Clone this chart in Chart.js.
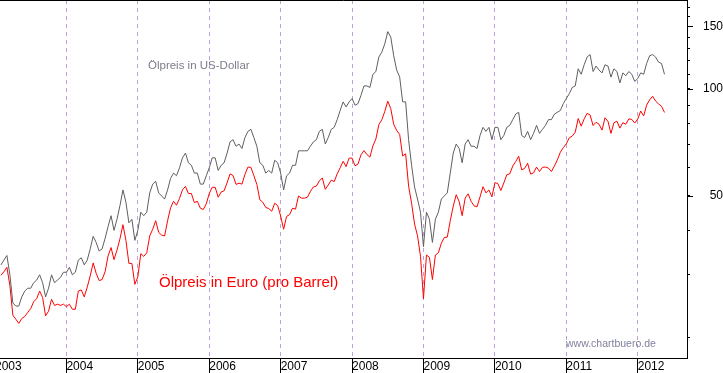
<!DOCTYPE html>
<html>
<head>
<meta charset="utf-8">
<script src="https://cdn.jsdelivr.net/npm/chart.js@4/dist/chart.umd.min.js"></script>
<style>
  html, body { margin: 0; padding: 0; background: #fff; }
  #wrap { width: 723px; height: 373px; }
</style>
</head>
<body>
<div id="wrap"><canvas id="oilChart" width="723" height="373"></canvas></div>
<script>
// half-monthly readings, starting at 1 Feb 2003
const firstDate = 2003 + 1 / 12;
const step = 1 / 24;

// Brent in US-Dollar
const usdPrice = [
  32, 33, 34, 30, 25, 24.5, 24.5, 26, 27, 27.5, 27.5, 28.5, 29, 30, 28.5, 26, 27.5, 30, 28.5, 29, 29.5, 30.5,
  30.5, 31.5, 30, 30.5, 33, 33.5, 32, 33, 35.5, 38.5, 37, 35, 35.5, 38, 41, 44, 40, 43, 47, 52, 48, 42, 43, 37.5,
  40, 45, 44, 45, 51, 54, 55, 51, 50, 49, 52, 56, 58, 57, 60, 64, 66, 62, 61, 58, 58, 54, 54, 57,
  60, 64, 64, 59, 61, 62, 66, 71, 72, 69, 70, 68, 73, 76, 77, 73, 69, 62, 61, 58, 59, 58, 63, 62,
  58, 52, 57, 58, 61, 61, 67, 67, 67, 67, 69, 71, 72, 76, 77, 70, 73, 77, 78, 82, 87, 92, 89, 92,
  94, 90, 91, 96, 102, 102, 101, 110, 112, 123, 127, 134, 145, 140, 124, 113, 108, 92, 92, 72, 61, 53, 49, 45,
  36, 45, 43, 37, 43, 45, 49, 50, 51, 58, 66, 70, 68, 62, 70, 72, 69, 69, 68, 74, 78, 76, 78, 72,
  78, 78, 72, 74, 78, 79, 82, 85, 86, 74, 73, 76, 72, 75, 79, 75, 77, 79, 82, 82, 85, 86, 87, 91,
  94, 97, 101, 102, 114, 110, 117, 123, 125, 112, 116, 113, 111, 117, 116, 108, 114, 112, 104, 111, 109, 112, 110, 105,
  107, 111, 110, 118, 124, 125, 123, 119, 118, 110
];

// Brent in Euro
const eurPrice = [
  29.9, 30.6, 31.5, 28.0, 23.1, 22.5, 21.9, 22.6, 22.9, 23.5, 24.1, 25.2, 25.7, 27.0, 25.9, 23.0, 23.7, 25.6, 24.6, 24.8, 24.6, 24.8,
  24.4, 24.8, 24.0, 24.0, 27.0, 27.2, 26.0, 27.7, 29.8, 32.4, 30.3, 28.9, 29.1, 30.6, 33.9, 35.8, 33.1, 35.2, 37.9, 41.5, 37.5, 32.3, 32.3, 28.2,
  29.6, 34.4, 33.8, 34.6, 38.6, 40.3, 42.6, 39.5, 38.8, 38.6, 42.6, 46.3, 48.3, 47.1, 49.2, 52.0, 53.2, 50.8, 50.8, 47.9, 48.3, 46.2, 45.8, 47.5,
  50.8, 52.9, 52.9, 49.6, 51.3, 51.7, 54.5, 57.7, 57.1, 53.9, 54.3, 54.0, 57.5, 60.3, 60.2, 57.0, 53.9, 48.8, 48.0, 46.4, 46.1, 45.3, 47.7, 47.0,
  43.9, 40.3, 43.8, 44.3, 46.2, 45.9, 50.0, 49.3, 49.3, 49.6, 51.5, 53.0, 53.3, 55.1, 56.2, 52.2, 53.7, 55.4, 54.9, 57.7, 60.0, 62.6, 60.5, 63.9,
  63.9, 60.8, 61.5, 65.3, 67.1, 65.4, 64.3, 69.2, 72.3, 79.4, 81.9, 86.5, 92.4, 88.1, 79.5, 76.4, 74.5, 64.8, 65.7, 53.3, 47.7, 41.7, 38.6, 33.8,
  25.7, 34.1, 33.6, 29.1, 34.1, 34.6, 36.8, 38.2, 38.3, 42.6, 46.8, 50.4, 48.2, 44.0, 49.3, 50.7, 48.3, 46.9, 46.6, 49.7, 53.1, 51.0, 52.0, 49.7,
  54.5, 54.2, 51.8, 54.4, 57.4, 57.7, 60.7, 62.5, 64.7, 59.2, 59.8, 61.8, 57.6, 58.1, 60.3, 58.6, 60.2, 60.3, 59.9, 58.6, 60.7, 63.2, 66.4, 68.4,
  70.1, 72.9, 73.7, 75.6, 82.6, 78.6, 82.4, 85.4, 84.5, 78.9, 80.6, 79.6, 76.6, 83.0, 81.1, 75.0, 80.3, 81.2, 77.6, 80.4, 79.6, 82.4, 82.1, 80.2,
  82.3, 86.7, 84.0, 90.1, 93.2, 95.4, 92.5, 90.8, 89.4, 85.9
];

const yearTicks = [2003, 2004, 2005, 2006, 2007, 2008, 2009, 2010, 2011, 2012];
const priceTicks = [20, 30, 40, 50, 60, 70, 80, 90, 100, 110, 120, 130, 140, 150, 160, 170];
const labeledTicks = [50, 100, 150];

const toPoints = arr => arr.map((v, i) => ({ x: firstDate + i * step, y: v }));

const noPadding = scale => {
  scale.paddingLeft = 0;
  scale.paddingRight = 0;
  scale.paddingTop = 0;
  scale.paddingBottom = 0;
};

const labelsPlugin = {
  id: 'labels',
  afterDraw(chart) {
    const ctx = chart.ctx;
    const area = chart.chartArea;
    const y = chart.scales.y;
    ctx.save();
    ctx.strokeStyle = '#000';
    ctx.lineWidth = 1;
    // frame line on top of the plot
    ctx.beginPath();
    ctx.moveTo(area.left, Math.round(area.top) + 0.5);
    ctx.lineTo(area.right + 0.5, Math.round(area.top) + 0.5);
    ctx.stroke();
    // longer ticks on labelled values
    labeledTicks.forEach(v => {
      const py = Math.round(y.getPixelForValue(v)) + 0.5;
      ctx.beginPath();
      ctx.moveTo(y.left, py);
      ctx.lineTo(y.left + 6, py);
      ctx.stroke();
    });
    ctx.textBaseline = 'alphabetic';
    ctx.textAlign = 'left';
    ctx.fillStyle = '#7c7c8c';
    ctx.font = '11.5px Arial';
    ctx.fillText('Ölpreis in US-Dollar', 148, 69);
    ctx.fillStyle = '#ff0000';
    ctx.font = '15px Arial';
    ctx.fillText('Ölpreis in Euro (pro Barrel)', 159, 287);
    ctx.fillStyle = '#8080a0';
    ctx.font = '10.5px Arial';
    ctx.fillText('www.chartbuero.de', 566, 347);
    ctx.restore();
  }
};

new Chart(document.getElementById('oilChart'), {
  type: 'line',
  data: {
    datasets: [
      {
        label: 'USD',
        data: toPoints(usdPrice),
        borderColor: '#5f5f5f',
        borderWidth: 1,
        pointRadius: 0,
        tension: 0
      },
      {
        label: 'EUR',
        data: toPoints(eurPrice),
        borderColor: '#ff0000',
        borderWidth: 1,
        pointRadius: 0,
        tension: 0
      }
    ]
  },
  options: {
    responsive: false,
    animation: false,
    layout: { autoPadding: false, padding: 0 },
    plugins: { legend: { display: false }, tooltip: { enabled: false } },
    scales: {
      x: {
        type: 'linear',
        position: 'bottom',
        min: 2003.07,
        max: 2012.69,
        afterBuildTicks: scale => { scale.ticks = yearTicks.map(v => ({ value: v })); },
        afterFit: scale => { noPadding(scale); scale.height = 15; },
        ticks: {
          autoSkip: false,
          maxRotation: 0,
          align: 'start',
          padding: -14,
          color: '#000',
          font: { family: 'Arial', size: 12 },
          callback: v => String(v)
        },
        grid: {
          color: '#c2a0d2',
          lineWidth: 1,
          tickLength: 15,
          tickColor: '#000',
          tickBorderDash: []
        },
        border: { display: true, color: '#000', width: 1, dash: [4, 4] }
      },
      y: {
        type: 'logarithmic',
        position: 'right',
        min: 17.5,
        max: 178,
        afterBuildTicks: scale => { scale.ticks = priceTicks.map(v => ({ value: v })); },
        afterFit: scale => { noPadding(scale); scale.width = 36; },
        ticks: {
          autoSkip: false,
          padding: 9,
          crossAlign: 'far',
          color: '#000',
          font: { family: 'Arial', size: 12 },
          callback: v => labeledTicks.includes(v) ? String(v) : ''
        },
        grid: {
          drawOnChartArea: false,
          tickLength: 3,
          tickColor: '#000'
        },
        border: { display: true, color: '#000', width: 1 }
      }
    }
  },
  plugins: [labelsPlugin]
});
</script>
</body>
</html>
